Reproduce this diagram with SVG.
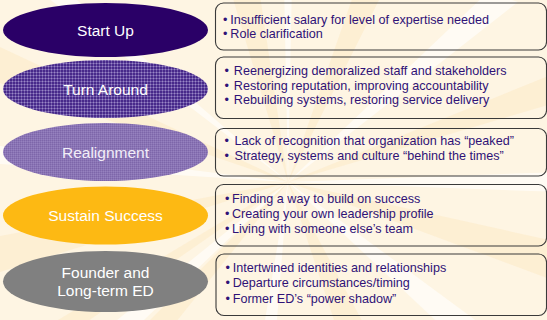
<svg xmlns="http://www.w3.org/2000/svg" width="547" height="320" viewBox="0 0 547 320">
  <defs>
    <style>
      .lbl { font-family: "Liberation Sans", Arial, sans-serif; font-size: 15.5px; fill: #ffffff; text-anchor: middle; }
      .item { font-family: "Liberation Sans", Arial, sans-serif; font-size: 12.6px; fill: #2f1277; }
      .box { fill: none; stroke: #3a3a3a; stroke-width: 1.1; }
      .ray-w { fill: #ffffff; opacity: 0.6; }
      .ray-p { fill: #fbe0ae; opacity: 0.3; }
    </style>
    <!-- woven check used by the second stage -->
    <pattern id="plaid" width="3" height="3" patternUnits="userSpaceOnUse">
      <rect width="3" height="3" fill="#47298a"/>
      <rect width="3" height="1" fill="#6f57a8"/>
      <rect width="1" height="3" fill="#6f57a8"/>
      <rect width="1" height="1" fill="#9a88c6"/>
    </pattern>
    <!-- fine check used by the third stage -->
    <pattern id="fine" width="2" height="2" patternUnits="userSpaceOnUse">
      <rect width="2" height="2" fill="#8a74b4"/>
      <rect width="1" height="1" fill="#7d66aa"/>
      <rect x="1" y="1" width="1" height="1" fill="#9581bf"/>
    </pattern>
  </defs>

  <!-- page background with a faint sunburst -->
  <rect width="547" height="320" fill="#fef5e3"/>
  <g id="sunburst" transform="translate(288,182)">
    <polygon class="ray-w" points="0,0 -4,-200 4,-200"/>
    <polygon class="ray-p" points="0,0 -60,-200 -30,-200"/>
    <polygon class="ray-w" points="0,0 -300,-230 -290,-250"/>
    <polygon class="ray-p" points="0,0 -320,-150 -320,-110"/>
    <polygon class="ray-w" points="0,0 -320,-40 -320,-20"/>
    <polygon class="ray-p" points="0,0 -320,60 -320,100"/>
    <polygon class="ray-w" points="0,0 -260,210 -240,230"/>
    <polygon class="ray-p" points="0,0 -250,150 -230,160"/>
    <polygon class="ray-p" points="0,0 -150,150 -120,150"/>
    <polygon class="ray-w" points="0,0 -25,150 -12,150"/>
    <polygon class="ray-p" points="0,0 50,150 80,150"/>
    <polygon class="ray-w" points="0,0 160,150 190,140"/>
    <polygon class="ray-p" points="0,0 270,60 270,100"/>
    <polygon class="ray-w" points="0,0 270,-10 270,10"/>
    <polygon class="ray-p" points="0,0 270,-110 270,-80"/>
    <polygon class="ray-w" points="0,0 200,-190 230,-180"/>
    <polygon class="ray-p" points="0,0 70,-200 100,-200"/>
  </g>

  <!-- stage ovals -->
  <g id="start-up">
    <ellipse cx="105.5" cy="30" rx="102.5" ry="27" fill="#2a0067"/>
    <text class="lbl" x="105.5" y="36">Start Up</text>
  </g>
  <g id="turn-around">
    <ellipse cx="105.5" cy="89" rx="102.5" ry="29" fill="url(#plaid)"/>
    <text class="lbl" x="105.5" y="95">Turn Around</text>
  </g>
  <g id="realignment">
    <ellipse cx="105.5" cy="152" rx="102.5" ry="29" fill="url(#fine)"/>
    <text class="lbl" x="105.5" y="157.5" style="fill:#f2eef8">Realignment</text>
  </g>
  <g id="sustain-success">
    <ellipse cx="105.5" cy="215.5" rx="102.5" ry="29" fill="#fdb913"/>
    <text class="lbl" x="105.5" y="221">Sustain Success</text>
  </g>
  <g id="founder">
    <ellipse cx="105.5" cy="281.5" rx="102.5" ry="30.5" fill="#808080"/>
    <text class="lbl" x="105.5" y="277.5">Founder and</text>
    <text class="lbl" x="105.5" y="296">Long-term ED</text>
  </g>

  <!-- challenge lists -->
  <g id="start-up-issues">
    <rect class="box" x="215.5" y="3" width="331" height="47" rx="8"/>
    <text class="item" x="223" y="23.5">•</text>
    <text class="item" x="230.3" y="23.5">Insufficient salary for level of expertise needed</text>
    <text class="item" x="223" y="38">•</text>
    <text class="item" x="230.3" y="38">Role clarification</text>
  </g>
  <g id="turn-around-issues">
    <rect class="box" x="215.5" y="57" width="331" height="61.5" rx="8"/>
    <text class="item" x="224.5" y="75">•</text>
    <text class="item" x="233.8" y="75">Reenergizing demoralized staff and stakeholders</text>
    <text class="item" x="224.5" y="89.5">•</text>
    <text class="item" x="233.8" y="89.5">Restoring reputation, improving accountability</text>
    <text class="item" x="224.5" y="104">•</text>
    <text class="item" x="233.8" y="104">Rebuilding systems, restoring service delivery</text>
  </g>
  <g id="realignment-issues">
    <rect class="box" x="215.5" y="128.5" width="331" height="47.5" rx="8"/>
    <text class="item" x="224.5" y="145">•</text>
    <text class="item" x="234.5" y="145">Lack of recognition that organization has “peaked”</text>
    <text class="item" x="224.5" y="160">•</text>
    <text class="item" x="234.5" y="160">Strategy, systems and culture “behind the times”</text>
  </g>
  <g id="sustain-success-issues">
    <rect class="box" x="215.5" y="184.5" width="331" height="61.5" rx="8"/>
    <text class="item" x="225" y="202.5">•</text>
    <text class="item" x="232" y="202.5">Finding a way to build on success</text>
    <text class="item" x="225" y="217.5">•</text>
    <text class="item" x="232" y="217.5">Creating your own leadership profile</text>
    <text class="item" x="225" y="233">•</text>
    <text class="item" x="232" y="233">Living with someone else’s team</text>
  </g>
  <g id="founder-issues">
    <rect class="box" x="216" y="254" width="330.5" height="61.5" rx="8"/>
    <text class="item" x="225.5" y="271.5">•</text>
    <text class="item" x="232.7" y="271.5">Intertwined identities and relationships</text>
    <text class="item" x="225.5" y="287">•</text>
    <text class="item" x="232.7" y="287">Departure circumstances/timing</text>
    <text class="item" x="225.5" y="302.5">•</text>
    <text class="item" x="232.7" y="302.5">Former ED’s “power shadow”</text>
  </g>
</svg>
